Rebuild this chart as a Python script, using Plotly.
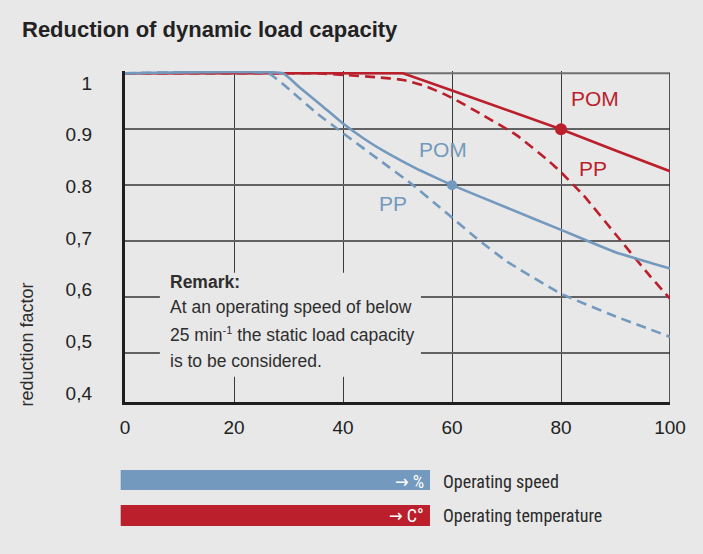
import plotly.graph_objects as go

# ---------------- data ----------------
x_ticks = [0, 20, 40, 60, 80, 100]
y_grid = [0.5, 0.6, 0.7, 0.8, 0.9]
y_label_vals = [0.4, 0.5, 0.6, 0.7, 0.8, 0.9, 1.0]
y_label_text = ["0,4", "0,5", "0,6", "0,7", "0.8", "0.9", "1"]

# Operating speed (blue)
speed_pom_x = [0, 29, 32, 36, 40, 44, 48, 54, 60, 70, 80, 90, 100]
speed_pom_y = [1.0, 1.0, 0.975, 0.943, 0.910, 0.882, 0.858, 0.827, 0.800, 0.760, 0.720, 0.680, 0.651]
speed_pp_x = [0, 26.3, 31, 35, 40, 46.8, 52.6, 57.8, 60, 64.5, 70, 80, 89.6, 100]
speed_pp_y = [1.0, 1.0, 0.964, 0.930, 0.893, 0.844, 0.802, 0.760, 0.742, 0.705, 0.664, 0.606, 0.567, 0.529]

# Operating temperature (red)
temp_pom_x = [0, 51, 60, 70, 80, 90, 100]
temp_pom_y = [1.0, 1.0, 0.969, 0.935, 0.900, 0.862, 0.825]
temp_pp_x = [0, 25, 30, 35, 40, 46, 51, 55.4, 60, 65.7, 71.9, 78, 80, 84.1, 90.2, 96.3, 100]
temp_pp_y = [1.0, 1.0, 1.0, 1.0, 0.997, 0.993, 0.988, 0.976, 0.956, 0.925, 0.889, 0.841, 0.823, 0.782, 0.710, 0.638, 0.597]

speed_point = (60, 0.8)
temp_point = (80, 0.9)

BLUE = "#7399be"
RED = "#bc1f2c"
BG = "#e8e8e8"
SANS = "Liberation Sans, Arial, Helvetica, sans-serif"
NARROW = "Liberation Sans Narrow, Arial Narrow, Roboto Condensed, DejaVu Sans Condensed, Liberation Sans, sans-serif"

fig = go.Figure()

dash = "10px,6px"
fig.add_trace(go.Scatter(x=temp_pp_x, y=temp_pp_y, mode="lines",
                         line=dict(color=RED, width=2.6, dash=dash, shape="spline", smoothing=0.5),
                         showlegend=False, hoverinfo="skip"))
fig.add_trace(go.Scatter(x=temp_pom_x, y=temp_pom_y, mode="lines",
                         line=dict(color=RED, width=2.6),
                         showlegend=False, hoverinfo="skip"))
fig.add_trace(go.Scatter(x=speed_pp_x, y=speed_pp_y, mode="lines",
                         line=dict(color=BLUE, width=2.6, dash=dash, shape="spline", smoothing=0.3),
                         showlegend=False, hoverinfo="skip"))
fig.add_trace(go.Scatter(x=speed_pom_x, y=speed_pom_y, mode="lines",
                         line=dict(color=BLUE, width=2.6, shape="spline", smoothing=0.3),
                         showlegend=False, hoverinfo="skip"))
fig.add_trace(go.Scatter(x=[speed_point[0]], y=[speed_point[1]], mode="markers",
                         marker=dict(color=BLUE, size=10), showlegend=False, hoverinfo="skip"))
fig.add_trace(go.Scatter(x=[temp_point[0]], y=[temp_point[1]], mode="markers",
                         marker=dict(color=RED, size=12), showlegend=False, hoverinfo="skip"))
# helper trace for the label axis
fig.add_trace(go.Scatter(x=[None], y=[None], yaxis="y2", showlegend=False, hoverinfo="skip"))

# cut-out of the grid behind the remark
fig.add_shape(type="rect", xref="x", yref="y", x0=6.4, x1=54.3, y0=0.4577, y1=0.6434,
              fillcolor=BG, line=dict(width=0), layer="between")
# frame: top grey line, right dark line
fig.add_shape(type="line", xref="x", yref="y", x0=0, x1=100, y0=1.0, y1=1.0,
              line=dict(color="#707070", width=1.8), layer="between")
fig.add_shape(type="line", xref="x", yref="y", x0=100, x1=100, y0=0.4125, y1=1.0,
              line=dict(color="#303030", width=1.6), layer="between")

# legend bars
fig.add_shape(type="rect", xref="paper", yref="paper", x0=-0.0079, x1=0.5596, y0=-0.2659, y1=-0.2054,
              fillcolor=BLUE, line=dict(width=0))
fig.add_shape(type="rect", xref="paper", yref="paper", x0=-0.0079, x1=0.5596, y0=-0.3746, y1=-0.3112,
              fillcolor=RED, line=dict(width=0))

ann = []
ann.append(dict(text="→ %", xref="paper", yref="paper", x=0.553, y=-0.2387, xanchor="right", yanchor="middle",
                showarrow=False, font=dict(family=NARROW, size=18, color="white")))
ann.append(dict(text="→ C°", xref="paper", yref="paper", x=0.553, y=-0.3444, xanchor="right", yanchor="middle",
                showarrow=False, font=dict(family=NARROW, size=18, color="white")))
ann.append(dict(text="Operating speed", xref="paper", yref="paper", x=0.5793, y=-0.2387, xanchor="left",
                yanchor="middle", showarrow=False, font=dict(family=NARROW, size=18, color="#2a2a2a")))
ann.append(dict(text="Operating temperature", xref="paper", yref="paper", x=0.5793, y=-0.3444, xanchor="left",
                yanchor="middle", showarrow=False, font=dict(family=NARROW, size=18, color="#2a2a2a")))

# curve labels
ann.append(dict(text="POM", x=86.2, y=0.955, xref="x", yref="y", showarrow=False,
                font=dict(family=SANS, size=21, color=RED)))
ann.append(dict(text="PP", x=85.9, y=0.830, xref="x", yref="y", showarrow=False,
                font=dict(family=SANS, size=21, color=RED)))
ann.append(dict(text="POM", x=58.4, y=0.863, xref="x", yref="y", showarrow=False,
                font=dict(family=SANS, size=21, color=BLUE)))
ann.append(dict(text="PP", x=49.1, y=0.768, xref="x", yref="y", showarrow=False,
                font=dict(family=SANS, size=21, color=BLUE)))

# remark
remark_lines = ["<b>Remark:</b>", "At an operating speed of below",
                "25 min<sup><span style='font-size:11px'>-1</span></sup> the static load capacity",
                "is to be considered."]
remark_y = [0.6262, 0.5816, 0.5328, 0.4862]
for t, yy in zip(remark_lines, remark_y):
    ann.append(dict(text=t, x=7.9, y=yy, xref="x", yref="y", xanchor="left", yanchor="middle",
                    showarrow=False, font=dict(family=SANS, size=17.5, color="#2e2e2e")))

# axis title
ann.append(dict(text="reduction factor", xref="paper", yref="paper", x=-0.1789, y=0.1752,
                xanchor="center", yanchor="middle", textangle=-90, showarrow=False,
                font=dict(family=SANS, size=18, color="#2e2e2e")))

fig.update_layout(
    width=703, height=554,
    margin=dict(l=125, r=33, t=71, b=152),
    paper_bgcolor=BG, plot_bgcolor=BG,
    title=dict(text="<b>Reduction of dynamic load capacity</b>", x=22 / 703, xanchor="left",
               y=1 - 29 / 554, yanchor="middle", xref="container", yref="container",
               font=dict(family=SANS, size=22, color="#222222")),
    xaxis=dict(range=[0, 100], tickvals=x_ticks, showgrid=True, gridcolor="#3a3a3a", gridwidth=1.3,
               showline=True, linecolor="#1e1e1e", linewidth=3, zeroline=False, ticks="",
               ticklabelstandoff=6, tickfont=dict(family=SANS, size=19, color="#222222")),
    yaxis=dict(range=[0.4125, 1.004], tickvals=y_grid, showticklabels=False, showgrid=True,
               gridcolor="#626262", gridwidth=1.6, showline=True, linecolor="#1e1e1e", linewidth=3,
               zeroline=False, ticks=""),
    yaxis2=dict(overlaying="y", side="left", range=[0.3826, 1.0232], tickvals=y_label_vals,
                ticktext=y_label_text, showgrid=False, showline=False, zeroline=False, ticks="",
                ticklabelstandoff=32, tickfont=dict(family=SANS, size=19, color="#222222")),
    annotations=ann,
    showlegend=False,
)

fig.write_html("out.html", post_script="document.body.style.margin='0px';",
               config={"displayModeBar": False})
